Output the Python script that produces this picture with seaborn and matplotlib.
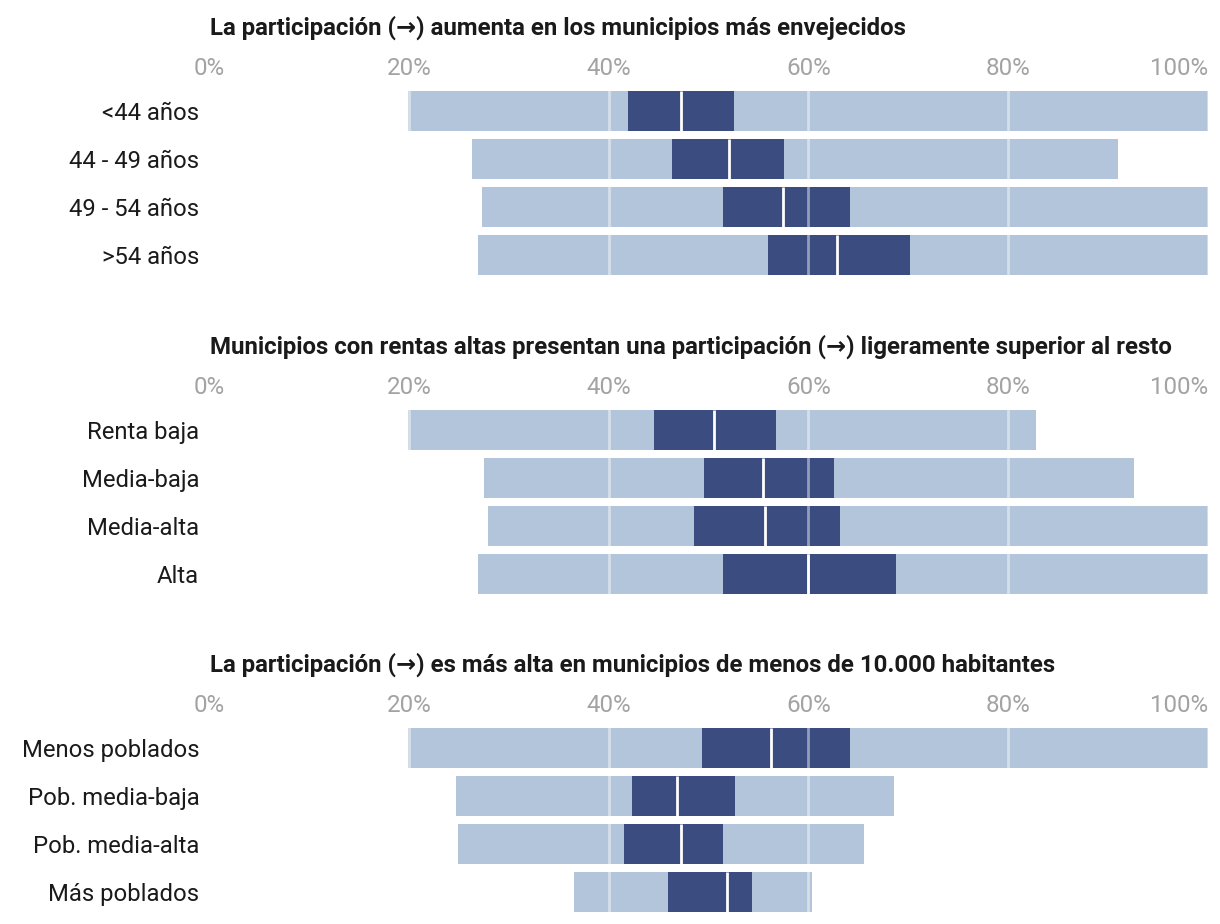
import numpy as np
import pandas as pd
import seaborn as sns
import matplotlib.pyplot as plt
from matplotlib.ticker import PercentFormatter

# datos (% participación): mínimo, Q1, mediana, Q3, máximo
titulos = [
    "La participación (→) aumenta en los municipios más envejecidos",
    "Municipios con rentas altas presentan una participación (→) ligeramente superior al resto",
    "La participación (→) es más alta en municipios de menos de 10.000 habitantes",
]

cat_edad = ["<44 años", "44 - 49 años", "49 - 54 años", ">54 años"]
min_edad = [19.9, 26.3, 27.3, 26.9]
q1_edad = [41.9, 46.3, 51.4, 56.0]
med_edad = [47.2, 52.1, 57.5, 62.9]
q3_edad = [52.6, 57.6, 64.2, 70.2]
max_edad = [100, 91.0, 100, 100]

cat_renta = ["Renta baja", "Media-baja", "Media-alta", "Alta"]
min_renta = [19.9, 27.5, 27.9, 26.9]
q1_renta = [44.5, 49.5, 48.5, 51.4]
med_renta = [50.5, 55.5, 55.7, 60.0]
q3_renta = [56.8, 62.6, 63.2, 68.8]
max_renta = [82.8, 92.6, 100, 100]

cat_pob = ["Menos poblados", "Pob. media-baja", "Pob. media-alta", "Más poblados"]
min_pob = [19.9, 24.7, 24.9, 36.5]
q1_pob = [49.3, 42.3, 41.5, 45.9]
med_pob = [56.3, 46.8, 47.2, 51.9]
q3_pob = [64.2, 52.7, 51.4, 54.4]
max_pob = [100, 68.6, 65.6, 60.4]

ticks = [0, 20, 40, 60, 80, 100]

claro = "#b3c5da"
oscuro = "#3b4c80"

sns.set_theme(style="white")
plt.rcParams['font.family'] = ['Roboto', 'DejaVu Sans']

fig = plt.figure(figsize=(12.2, 9.24), dpi=100)

paneles = [
    (titulos[0], cat_edad, min_edad, q1_edad, med_edad, q3_edad, max_edad, 0.698),
    (titulos[1], cat_renta, min_renta, q1_renta, med_renta, q3_renta, max_renta, 0.3528),
    (titulos[2], cat_pob, min_pob, q1_pob, med_pob, q3_pob, max_pob, 0.0087),
]

alto_bar = 40 / 48

for titulo, cats, mn, q1, med, q3, mx, y0 in paneles:
    ax = fig.add_axes([0.1713, y0, 0.8189, 0.2078])
    df = pd.DataFrame({"cat": cats, "min": mn, "q1": q1, "med": med, "q3": q3, "max": mx})

    # barras apiladas por capas: rango total, caja intercuartílica y máscara blanca
    sns.barplot(data=df, x="max", y="cat", color=claro, saturation=1, width=alto_bar, linewidth=0, ax=ax)
    sns.barplot(data=df, x="q3", y="cat", color=oscuro, saturation=1, width=alto_bar, linewidth=0, ax=ax)
    sns.barplot(data=df, x="q1", y="cat", color=claro, saturation=1, width=alto_bar, linewidth=0, ax=ax)
    sns.barplot(data=df, x="min", y="cat", color="white", saturation=1, width=alto_bar, linewidth=0, ax=ax)

    # mediana
    pos = np.arange(len(cats))
    ax.vlines(df["med"], pos - alto_bar / 2, pos + alto_bar / 2, color="white", linewidth=2, zorder=5)

    # rejilla encima
    for t in ticks[1:]:
        ax.axvline(t, color="white", alpha=0.45, linewidth=2, zorder=6)

    ax.set_xlim(0, 100)
    ax.set_ylim(3.5, -0.5)
    ax.set_xticks(ticks)
    ax.xaxis.set_major_formatter(PercentFormatter(decimals=0))
    ax.xaxis.tick_top()
    ax.tick_params(axis="x", length=0, pad=5, labelsize=17.4, labelcolor="#a3a3a3")
    ax.tick_params(axis="y", length=0, pad=7, labelsize=17.2, labelcolor="#1a1a1a")
    ax.get_xticklabels()[-1].set_horizontalalignment("right")
    ax.set_xlabel("")
    ax.set_ylabel("")
    ax.grid(False)
    sns.despine(ax=ax, left=True, bottom=True, top=True, right=True)

    ax.text(0.001, 1 + 59 / 192, titulo, transform=ax.transAxes, ha="left", va="center",
            fontsize=17.25, fontweight="bold", color="#1a1a1a")

fig.savefig("out.png", dpi=100)
